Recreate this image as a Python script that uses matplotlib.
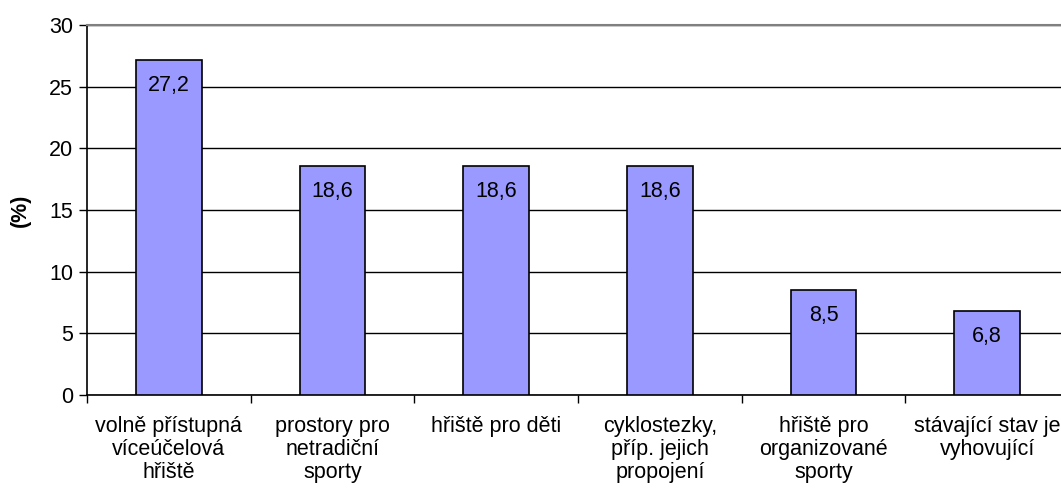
import numpy as np
import matplotlib.pyplot as plt

plt.rcParams['font.family'] = ['Liberation Sans', 'DejaVu Sans']

categories = ["volně přístupná\nvíceúčelová\nhřiště",
              "prostory pro\nnetradiční\nsporty",
              "hřiště pro děti",
              "cyklostezky,\npříp. jejich\npropojení",
              "hřiště pro\norganizované\nsporty",
              "stávající stav je\nvyhovující"]
values = [27.2, 18.6, 18.6, 18.6, 8.5, 6.8]
yticks = [0, 5, 10, 15, 20, 25, 30]

FS = 15.5

fig = plt.figure(figsize=(10.61, 4.96), dpi=100)
ax = fig.add_axes([0.082, 0.2036, 0.9255, 0.746])

x = np.arange(len(values))
ax.set_axisbelow(True)
ax.yaxis.grid(True, color='black', linewidth=1)
bars = ax.bar(x, values, width=0.4, color='#9999ff', edgecolor='black', linewidth=1.2, zorder=3)

for xi, v in zip(x, values):
    ax.annotate(f"{v:.1f}".replace('.', ','), (xi, v), xytext=(0, -11),
                textcoords='offset points', ha='center', va='top', fontsize=FS, zorder=4)

ax.set_xlim(-0.5, len(values) - 0.5)
ax.set_ylim(0, 30)
ax.set_yticks(yticks)
ax.set_yticklabels([str(t) for t in yticks], fontsize=FS)

ax.set_xticks(x)
ax.set_xticklabels(categories, fontsize=FS, linespacing=1.12)
ax.tick_params(axis='x', length=0, pad=15)
ax.set_xticks(np.arange(-0.5, len(values), 1), minor=True)
ax.tick_params(axis='x', which='minor', length=6, width=1, color='black')
ax.tick_params(axis='y', length=6, width=1, color='black', pad=4)

ax.set_ylabel("(%)", fontsize=FS, fontweight='bold', labelpad=13)

for s in ['left', 'bottom']:
    ax.spines[s].set_color('black')
    ax.spines[s].set_linewidth(1.2)
ax.spines['top'].set_color('#808080')
ax.spines['top'].set_linewidth(1.5)
ax.spines['right'].set_visible(False)

fig.savefig('out.png', dpi=100)
